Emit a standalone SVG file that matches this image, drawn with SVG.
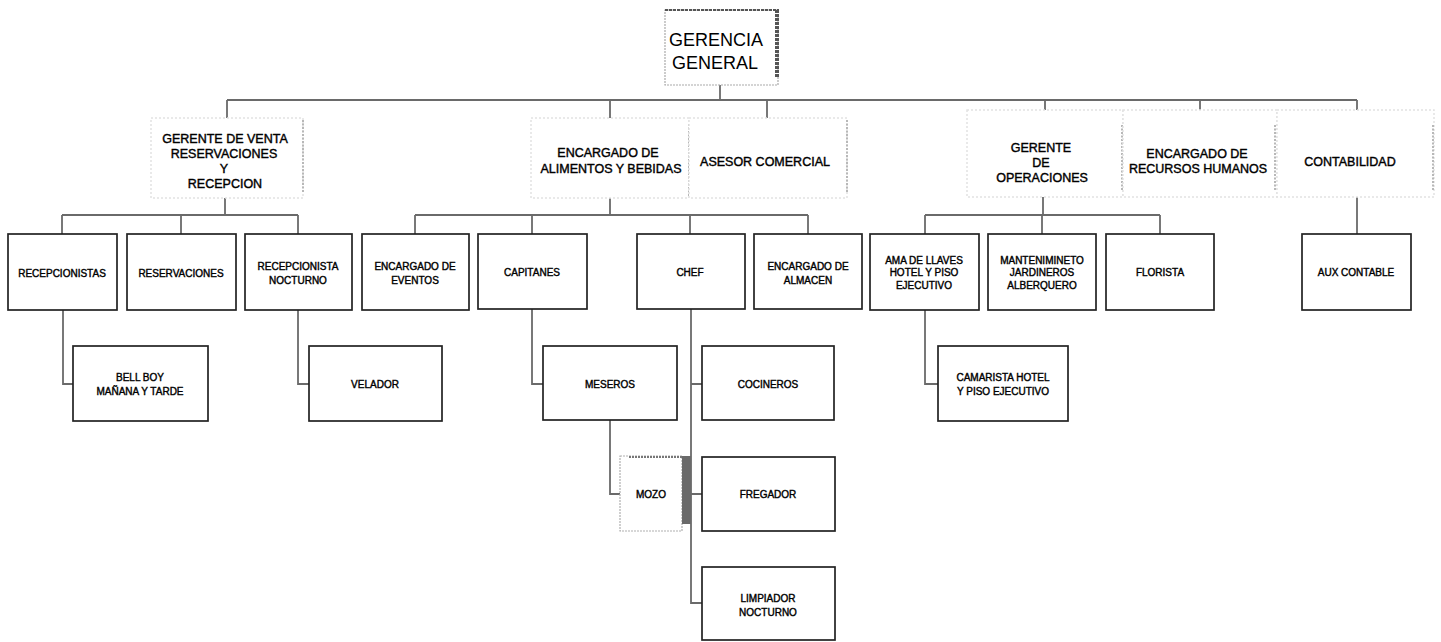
<svg xmlns="http://www.w3.org/2000/svg" width="1441" height="642" viewBox="0 0 1441 642">
<style>
  text { font-family: "Liberation Sans", Arial, sans-serif; fill: #000; text-anchor: middle; }
  .t1 { font-size: 18px; }
  .t2 { font-size: 12.5px; stroke: #000; stroke-width: 0.4; }
  .t3 { font-size: 10px; stroke: #000; stroke-width: 0.4; }
  .b2 { fill: #fff; stroke: #e2e2e2; stroke-width: 1.5; stroke-dasharray: 2 2; }
  .e2 { stroke: #b8b8b8; stroke-width: 2; stroke-dasharray: 2 1.5; }
  .b3 { fill: #fff; stroke: #222; stroke-width: 1.7; }
  .conn { fill: none; stroke: #6a6a6a; stroke-width: 1.8; }
</style>
<rect width="1441" height="642" fill="#fff"/>

<g id="connectors">
  <path class="conn" d="M720 85 V100"/>
  <path class="conn" d="M227 100 H1357"/>
  <path class="conn" d="M227 100 V118 M610 100 V118 M767 100 V118 M1045 100 V110 M1200 100 V110 M1357 100 V110"/>
  <path class="conn" d="M225 198 V215 M62 215 H298 M62 215 V234 M181 215 V234 M298 215 V234"/>
  <path class="conn" d="M610 198 V215 M415 215 H808 M415 215 V234 M532 215 V234 M690 215 V234 M808 215 V234"/>
  <path class="conn" d="M1043 197 V215 M925 215 H1160 M925 215 V234 M1042 215 V234 M1160 215 V234"/>
  <path class="conn" d="M1357 197 V234"/>
  <path class="conn" d="M63 310 V384 H73"/>
  <path class="conn" d="M298 310 V384 H309"/>
  <path class="conn" d="M532 309 V384 H543"/>
  <path class="conn" d="M610 420 V494 H620"/>
  <path class="conn" d="M691 309 V603 H702 M691 384 H702 M691 494 H702"/>
  <path class="conn" d="M925 310 V384 H938"/>
</g>

<g id="gerencia-general">
  <rect x="665" y="10" width="113" height="75" fill="#fff" stroke="#aaa" stroke-width="1.2" stroke-dasharray="2 1"/>
  <line x1="665" y1="10" x2="779" y2="10" stroke="#555" stroke-width="2" stroke-dasharray="3 1"/>
  <line x1="777" y1="10" x2="777" y2="78" stroke="#555" stroke-width="4" stroke-dasharray="3 1"/>
  <text class="t1" x="716" y="45.5">GERENCIA</text>
  <text class="t1" x="715" y="68.5">GENERAL</text>
</g>

<g id="gerente-venta">
  <rect class="b2" x="151" y="118" width="152" height="80"/>
  <line class="e2" x1="303" y1="120" x2="303" y2="192"/>
  <text class="t2" x="225" y="142.5">GERENTE DE VENTA</text>
  <text class="t2" x="224" y="157.5">RESERVACIONES</text>
  <text class="t2" x="224" y="172.5">Y</text>
  <text class="t2" x="225" y="187.5">RECEPCION</text>
</g>
<g id="alimentos-bebidas">
  <rect class="b2" x="531" y="118" width="158" height="80"/>
  <line class="e2" x1="689" y1="124" x2="689" y2="196"/>
  <text class="t2" x="608" y="156.5">ENCARGADO DE</text>
  <text class="t2" x="611" y="172.5">ALIMENTOS Y BEBIDAS</text>
</g>
<g id="asesor-comercial">
  <rect class="b2" x="689" y="118" width="158" height="80"/>
  <line class="e2" x1="847" y1="120" x2="847" y2="192"/>
  <text class="t2" x="765" y="165.5">ASESOR COMERCIAL</text>
</g>
<g id="gerente-operaciones">
  <rect class="b2" x="967" y="110" width="156" height="87"/>
  <line class="e2" x1="1122" y1="125" x2="1122" y2="190"/>
  <text class="t2" x="1041" y="151.5">GERENTE</text>
  <text class="t2" x="1041" y="166.5">DE</text>
  <text class="t2" x="1042" y="181.5">OPERACIONES</text>
</g>
<g id="recursos-humanos">
  <rect class="b2" x="1123" y="110" width="154" height="87"/>
  <line class="e2" x1="1275" y1="125" x2="1275" y2="190"/>
  <text class="t2" x="1197" y="157.5">ENCARGADO DE</text>
  <text class="t2" x="1198" y="172.5">RECURSOS HUMANOS</text>
</g>
<g id="contabilidad">
  <rect class="b2" x="1277" y="110" width="157" height="87"/>
  <line class="e2" x1="1433" y1="125" x2="1433" y2="190"/>
  <text class="t2" x="1350" y="165.5">CONTABILIDAD</text>
</g>

<g id="recepcionistas">
  <rect class="b3" x="8" y="234" width="109" height="76"/>
  <text class="t3" x="62" y="276.5">RECEPCIONISTAS</text>
</g>
<g id="reservaciones">
  <rect class="b3" x="127" y="234" width="109" height="76"/>
  <text class="t3" x="181" y="276.5">RESERVACIONES</text>
</g>
<g id="recepcionista-nocturno">
  <rect class="b3" x="245" y="234" width="107" height="76"/>
  <text class="t3" x="298" y="269.5">RECEPCIONISTA</text>
  <text class="t3" x="298" y="283.5">NOCTURNO</text>
</g>
<g id="encargado-eventos">
  <rect class="b3" x="362" y="234" width="107" height="76"/>
  <text class="t3" x="415" y="269.5">ENCARGADO DE</text>
  <text class="t3" x="415" y="283.5">EVENTOS</text>
</g>
<g id="capitanes">
  <rect class="b3" x="478" y="234" width="109" height="75"/>
  <text class="t3" x="532" y="276">CAPITANES</text>
</g>
<g id="chef">
  <rect class="b3" x="637" y="234" width="108" height="75"/>
  <text class="t3" x="690" y="276">CHEF</text>
</g>
<g id="encargado-almacen">
  <rect class="b3" x="754" y="234" width="108" height="75"/>
  <text class="t3" x="808" y="269.5">ENCARGADO DE</text>
  <text class="t3" x="808" y="283.5">ALMACEN</text>
</g>
<g id="ama-de-llaves">
  <rect class="b3" x="870" y="234" width="109" height="76"/>
  <text class="t3" x="924" y="263.5">AMA DE LLAVES</text>
  <text class="t3" x="924" y="276">HOTEL Y PISO</text>
  <text class="t3" x="924" y="288.5">EJECUTIVO</text>
</g>
<g id="mantenimiento">
  <rect class="b3" x="988" y="234" width="108" height="76"/>
  <text class="t3" x="1042" y="263.5">MANTENIMINETO</text>
  <text class="t3" x="1042" y="276">JARDINEROS</text>
  <text class="t3" x="1042" y="288.5">ALBERQUERO</text>
</g>
<g id="florista">
  <rect class="b3" x="1106" y="234" width="108" height="76"/>
  <text class="t3" x="1160" y="276">FLORISTA</text>
</g>
<g id="aux-contable">
  <rect class="b3" x="1302" y="234" width="109" height="76"/>
  <text class="t3" x="1356" y="276">AUX  CONTABLE</text>
</g>

<g id="bell-boy">
  <rect class="b3" x="73" y="346" width="135" height="75"/>
  <text class="t3" x="140" y="380.5">BELL BOY</text>
  <text class="t3" x="140" y="394.5">MAÑANA Y TARDE</text>
</g>
<g id="velador">
  <rect class="b3" x="309" y="346" width="133" height="75"/>
  <text class="t3" x="375" y="387.5">VELADOR</text>
</g>
<g id="meseros">
  <rect class="b3" x="543" y="346" width="134" height="74"/>
  <text class="t3" x="610" y="387.5">MESEROS</text>
</g>
<g id="cocineros">
  <rect class="b3" x="702" y="346" width="132" height="74"/>
  <text class="t3" x="768" y="387.5">COCINEROS</text>
</g>
<g id="camarista">
  <rect class="b3" x="938" y="346" width="130" height="75"/>
  <text class="t3" x="1003" y="380.5">CAMARISTA HOTEL</text>
  <text class="t3" x="1003" y="394.5">Y PISO EJECUTIVO</text>
</g>
<g id="mozo">
  <rect x="620" y="456" width="62" height="75" fill="#fff" stroke="#b0b0b0" stroke-width="1.2" stroke-dasharray="2 1"/>
  <line x1="629" y1="457" x2="686" y2="457" stroke="#777" stroke-width="2" stroke-dasharray="2 1"/>
  <rect x="682" y="456" width="9" height="68" fill="#6a6a6a"/>
  <text class="t3" x="651" y="497.5">MOZO</text>
</g>
<g id="fregador">
  <rect class="b3" x="702" y="457" width="133" height="74"/>
  <text class="t3" x="768" y="497.5">FREGADOR</text>
</g>
<g id="limpiador-nocturno">
  <rect class="b3" x="702" y="567" width="133" height="73"/>
  <text class="t3" x="768" y="601.5">LIMPIADOR</text>
  <text class="t3" x="768" y="615.5">NOCTURNO</text>
</g>
</svg>
